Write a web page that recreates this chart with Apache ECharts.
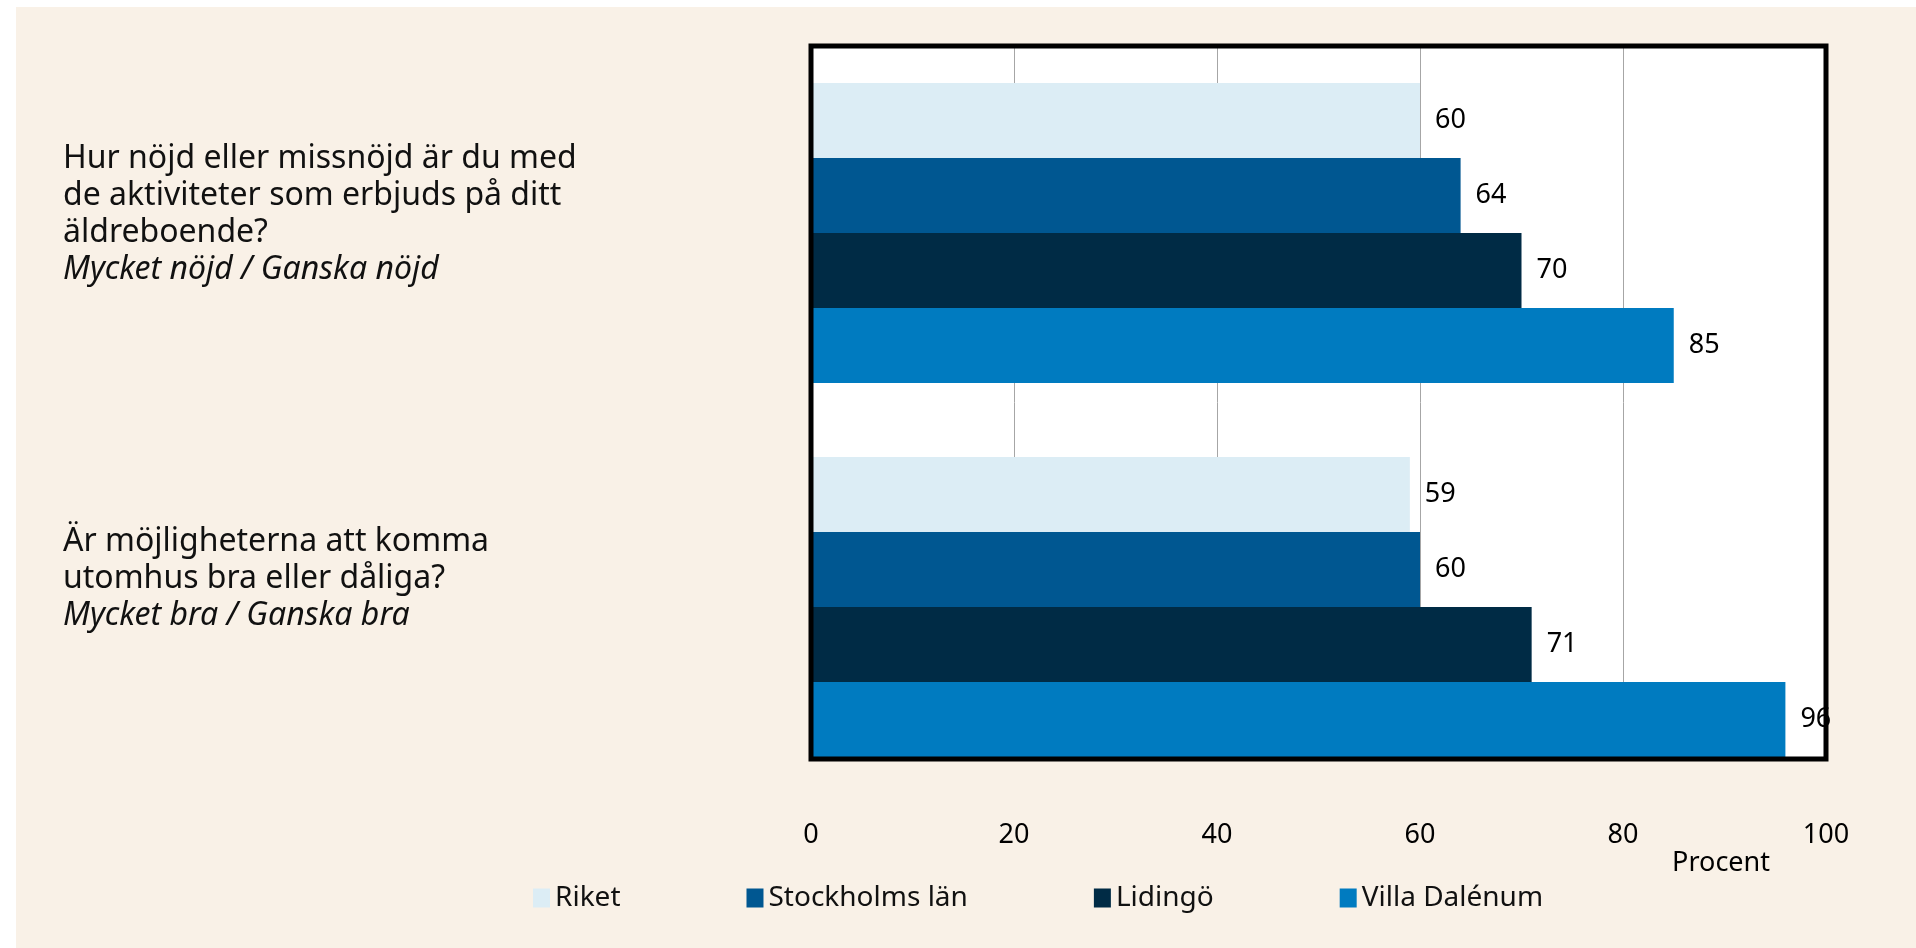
<!DOCTYPE html>
<html>
<head>
<meta charset="utf-8">
<script src="https://cdn.jsdelivr.net/npm/echarts@6/dist/echarts.min.js"></script>
<style>
  html, body { margin: 0; padding: 0; background: #fff; }
  #bg { position: absolute; left: 16px; top: 7px; right: 0; bottom: 0; background: #f9f1e7; }
  #chart { position: absolute; left: 0; top: 0; width: 1916px; height: 948px; }
</style>
</head>
<body>
<div id="bg"></div>
<div id="chart"></div>
<script>
// frågor (kategorier) och svarsalternativ
var questions = [
  'Hur nöjd eller missnöjd är du med\nde aktiviteter som erbjuds på ditt\näldreboende?',
  'Är möjligheterna att komma\nutomhus bra eller dåliga?'
];
var answers = ['Mycket nöjd / Ganska nöjd', 'Mycket bra / Ganska bra'];

// procent per område
var riket = [60, 59];
var stockholm = [64, 60];
var lidingo = [70, 71];
var villa = [85, 96];

var xTicks = [0, 20, 40, 60, 80, 100];

var names = ['Riket', 'Stockholms län', 'Lidingö', 'Villa Dalénum'];
var colors = ['#dcedf5', '#005791', '#002b45', '#007bc0'];

var chart = echarts.init(document.getElementById('chart'));

function barSeries(name, data) {
  return {
    name: name,
    type: 'bar',
    xAxisIndex: 1,
    yAxisIndex: 1,
    data: data,
    barWidth: 75,
    barGap: '0%',
    label: {
      show: true,
      position: 'right',
      distance: 15,
      color: '#000',
      fontSize: 27,
      fontFamily: 'Noto Sans'
    }
  };
}

// etiketterna ligger inte exakt mitt för grupperna
var labelShift = [38, 57];

var option = {
  animation: false,
  color: colors,
  textStyle: { fontFamily: 'Noto Sans' },
  legend: {
    left: 528,
    top: 879,
    itemWidth: 17,
    itemHeight: 19,
    itemGap: 126,
    icon: 'rect',
    textStyle: { fontSize: 28, color: '#111', padding: [0, 0, 0, 0] },
    data: names
  },
  grid: [
    // vit plotyta med rutnät
    { left: 811, right: 90, top: 46, bottom: 189, show: true, backgroundColor: '#fff', borderWidth: 0, z: 0, outerBoundsMode: 'none' },
    // staplar
    { left: 811, right: 90, top: 46, bottom: 154, outerBoundsMode: 'none' },
    // svart ram ovanpå
    { left: 811, right: 90, top: 46, bottom: 189, show: true, backgroundColor: 'transparent', borderColor: '#000', borderWidth: 5, z: 10, outerBoundsMode: 'none' }
  ],
  xAxis: [
    {
      gridIndex: 0,
      type: 'value',
      min: 0,
      max: 100,
      interval: 20,
      axisLine: { show: false },
      axisTick: { show: false },
      splitLine: { show: true, lineStyle: { color: '#a6a6a6', width: 1 } },
      axisLabel: {
        margin: 63,
        fontSize: 27,
        color: '#000',
        formatter: function (v) { return xTicks.indexOf(v) >= 0 ? String(v) : ''; }
      },
      name: 'Procent',
      nameLocation: 'end',
      nameGap: -56,
      nameTextStyle: { fontSize: 27, color: '#000', align: 'right', verticalAlign: 'top', padding: [91, 0, 0, 0] }
    },
    { gridIndex: 1, type: 'value', min: 0, max: 100, show: false },
    { gridIndex: 2, type: 'value', min: 0, max: 100, show: false }
  ],
  yAxis: [
    { gridIndex: 0, type: 'value', show: false },
    {
      gridIndex: 1,
      type: 'category',
      inverse: true,
      data: questions.map(function (q, i) {
        return { value: q, textStyle: { align: 'left', padding: [0, 0, labelShift[i], 0] } };
      }),
      axisLine: { show: false },
      axisTick: { show: false },
      axisLabel: {
        align: 'left',
        margin: 748,
        formatter: function (v, i) {
          var lines = v.split('\n').map(function (l) { return '{q|' + l + '}'; });
          lines.push('{s|' + answers[i] + '}');
          return lines.join('\n');
        },
        rich: {
          q: { fontSize: 32, lineHeight: 37, color: '#111', fontFamily: 'Noto Sans' },
          s: { fontSize: 32, lineHeight: 37, color: '#111', fontStyle: 'italic', fontFamily: 'Noto Sans' }
        }
      }
    },
    { gridIndex: 2, type: 'value', show: false }
  ],
  series: [
    barSeries(names[0], riket),
    barSeries(names[1], stockholm),
    barSeries(names[2], lidingo),
    barSeries(names[3], villa)
  ]
};

chart.setOption(option);
</script>
</body>
</html>
